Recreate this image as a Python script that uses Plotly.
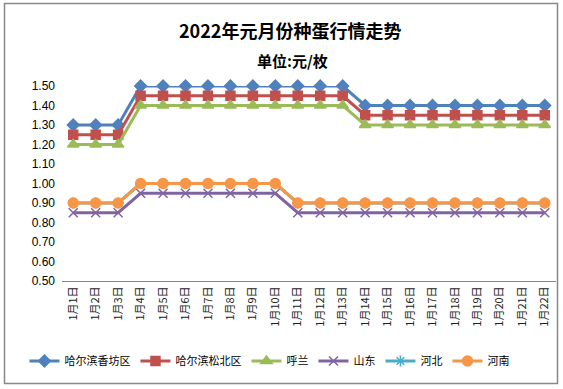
import plotly.graph_objects as go

days = [f"1月{i}日" for i in range(1, 23)]
xiangfang = [1.30]*3 + [1.50]*10 + [1.40]*9
songbei = [1.25]*3 + [1.45]*10 + [1.35]*9
hulan = [1.20]*3 + [1.40]*10 + [1.30]*9
shandong = [0.85]*3 + [0.95]*7 + [0.85]*12
hebei = [0.90]*3 + [1.00]*7 + [0.90]*12
henan = [0.90]*3 + [1.00]*7 + [0.90]*12

series = [
    ("哈尔滨香坊区", xiangfang, "#4F81BD", "diamond", 9),
    ("哈尔滨松北区", songbei, "#C0504D", "square", 9),
    ("呼兰", hulan, "#9BBB59", "triangle-up", 10),
    ("山东", shandong, "#8064A2", "x-thin-open", 9),
    ("河北", hebei, "#4BACC6", "asterisk-open", 9),
    ("河南", henan, "#F79646", "circle", 10),
]

W, H = 563, 389
ml, mr, mt, mb = 62, 7, 86, 108
pw, ph = W - ml - mr, H - mt - mb

fig = go.Figure()
for name, vals, col, sym, sz in series:
    fig.add_trace(go.Scatter(
        x=days, y=vals, name=name, mode="lines+markers",
        line=dict(color=col, width=3),
        marker=dict(symbol=sym, size=sz, color=col, line=dict(color=col, width=1.5)),
        cliponaxis=False,
    ))

def px(x):
    return (x - ml) / pw

def py(y):
    return (H - mb - y) / ph

fig.add_shape(type="rect", xref="paper", yref="paper",
              x0=px(4.5), x1=px(557.5), y0=py(383.5), y1=py(3.5),
              line=dict(color="#888888", width=1.5), layer="below")

fig.update_layout(
    width=W, height=H,
    margin=dict(l=ml, r=mr, t=mt, b=mb),
    paper_bgcolor="white", plot_bgcolor="white",
    font=dict(family="Noto Sans CJK SC, Liberation Sans", color="#000000", size=11),
    showlegend=True,
    legend=dict(orientation="h", x=0.42, xanchor="center", y=py(361), yanchor="middle",
                font=dict(size=11), itemwidth=30, tracegroupgap=0),
    annotations=[
        dict(text="<b>2022年元月份种蛋行情走势</b>", xref="paper", yref="paper",
             x=px(290), y=py(30), xanchor="center", yanchor="middle", showarrow=False,
             font=dict(size=18, color="#000000")),
        dict(text="<b>单位:元/枚</b>", xref="paper", yref="paper",
             x=px(292), y=py(60), xanchor="center", yanchor="middle", showarrow=False,
             font=dict(size=15, color="#000000")),
    ],
)
fig.update_xaxes(type="category", range=[-0.5, 21.5], tickangle=-90,
                 showline=True, linecolor="#868686", linewidth=1, ticks="",
                 showgrid=False, tickfont=dict(size=11, color="#222222"), zeroline=False)
fig.update_yaxes(range=[0.5, 1.5], dtick=0.1, tick0=0.5, tickformat=".2f",
                 showline=False, showgrid=False, zeroline=False, ticks="",
                 ticklabelstandoff=6,
                 tickfont=dict(size=12, family="Liberation Sans"))

fig.write_html("out.html", config={"displayModeBar": False},
               post_script="document.body.style.margin='0';")
